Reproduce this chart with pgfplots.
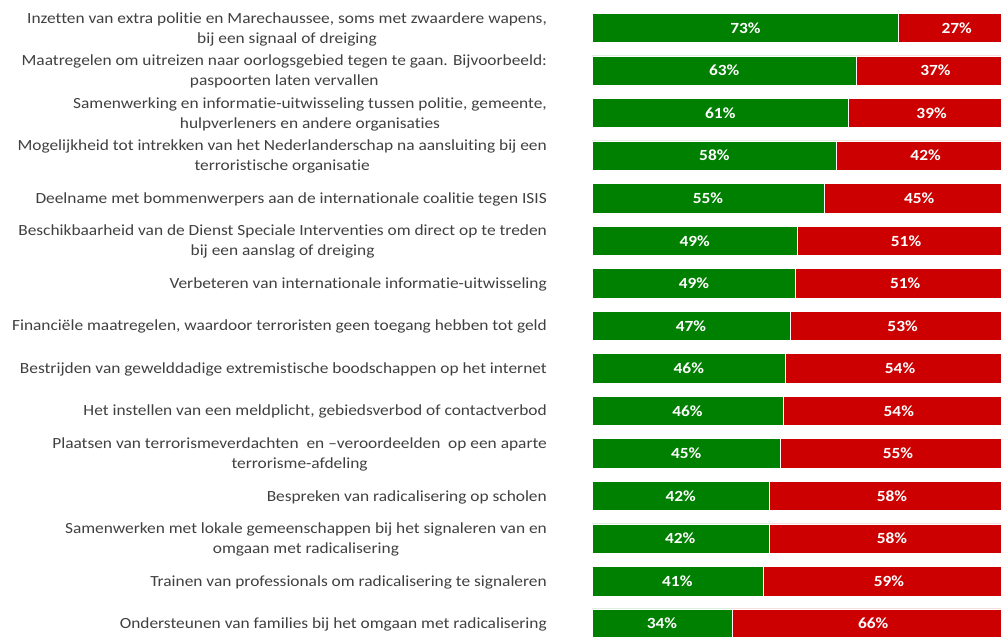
\documentclass[border=0pt]{standalone}
\usepackage{pgfplots}
\pgfplotsset{compat=1.18}
\usepackage{pgfplotstable}
\usepackage{fontspec}
\setmainfont{Carlito}[FakeStretch=1.12, Ligatures={NoCommon}]
\definecolor{jagreen}{HTML}{008000}
\definecolor{neered}{HTML}{CC0000}
\definecolor{labelgray}{HTML}{404040}

% row, green share, red share, printed labels, label positions
\pgfplotstableread{
row g r gl rl gc rc
0 72.8 27.2 73 27 36.8 86.4
1 62.8 37.2 63 37 31.8 81.4
2 61.0 39.0 61 39 30.9 80.5
3 58.2 41.8 58 42 29.5 79.1
4 55.2 44.8 55 45 28.0 77.6
5 49.0 51.0 49 51 24.9 74.5
6 48.6 51.4 49 51 24.7 74.3
7 47.3 52.7 47 53 24.0 73.7
8 46.2 53.8 46 54 23.5 73.1
9 45.6 54.4 46 54 23.2 72.8
10 45.1 54.9 45 55 22.9 72.6
11 42.4 57.6 42 58 21.6 71.2
12 42.3 57.7 42 58 21.5 71.2
13 40.9 59.1 41 59 20.8 70.5
14 33.6 66.4 34 66 17.2 66.8
}\data

\pgfplotsset{
  base/.style={
    at={(592bp,0)}, anchor=south west,
    scale only axis,
    width=409bp, height=637bp,
    xmin=0.78, xmax=96.8,
    ymin=-0.658, ymax=14.313,
    y dir=reverse,
  },
}

\begin{document}
\begin{tikzpicture}
\useasboundingbox (0,0) rectangle (1001bp,637bp);
\begin{axis}[
  base,
  xbar stacked,
  bar width=29.4bp,
  axis line style={draw=none},
  major tick length=0pt,
  xtick=\empty,
  ytick={0,...,14},
  yticklabels={
    {Inzetten van extra politie en Marechaussee, soms met zwaardere wapens,\\bij een signaal of dreiging},
    {Maatregelen om uitreizen naar oorlogsgebied tegen te gaan. Bijvoorbeeld:\\paspoorten laten vervallen},
    {Samenwerking en informatie-uitwisseling tussen politie, gemeente,\\hulpverleners en andere organisaties},
    {Mogelijkheid tot intrekken van het Nederlanderschap na aansluiting bij een\\terroristische organisatie},
    {Deelname met bommenwerpers aan de internationale coalitie tegen ISIS},
    {Beschikbaarheid van de Dienst Speciale Interventies om direct op te treden\\bij een aanslag of dreiging},
    {Verbeteren van internationale informatie-uitwisseling},
    {Financiële maatregelen, waardoor terroristen geen toegang hebben tot geld},
    {Bestrijden van gewelddadige extremistische boodschappen op het internet},
    {Het instellen van een meldplicht, gebiedsverbod of contactverbod},
    {Plaatsen van terrorismeverdachten\ \ en –veroordeelden\ \ op een aparte\\terrorisme-afdeling},
    {Bespreken van radicalisering op scholen},
    {Samenwerken met lokale gemeenschappen bij het signaleren van en\\omgaan met radicalisering},
    {Trainen van professionals om radicalisering te signaleren},
    {Ondersteunen van families bij het omgaan met radicalisering}
  },
  yticklabel style={font=\fontsize{15.5bp}{20bp}\selectfont, text=labelgray,
    align=center, inner sep=0pt, xshift=-45bp, yshift=-1bp},
]
  \addplot[fill=jagreen, draw=white, line width=0.6bp]
    table[x=g, y=row] {\data};
  \addplot[fill=neered, draw=white, line width=0.6bp]
    table[x=r, y=row] {\data};
\end{axis}
\begin{axis}[
  base,
  hide axis,
  nodes near coords={\pgfplotspointmeta\%},
  point meta=explicit symbolic,
  every node near coord/.append style={anchor=center, text=white,
    font=\fontsize{15.5bp}{17bp}\selectfont\bfseries},
]
  \addplot[draw=none, mark=none] table[x=gc, y=row, meta=gl] {\data};
  \addplot[draw=none, mark=none] table[x=rc, y=row, meta=rl] {\data};
\end{axis}
\end{tikzpicture}
\end{document}
